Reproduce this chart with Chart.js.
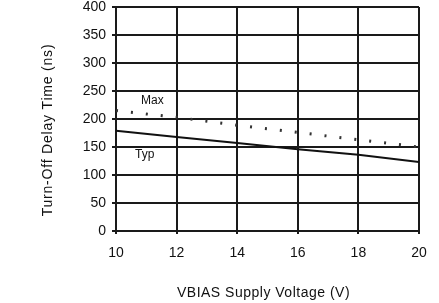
<!DOCTYPE html>
<html lang="en">
<head>
  <meta charset="UTF-8" />
  <title>Turn-Off Delay Time vs VBIAS</title>
  <script src="https://cdn.jsdelivr.net/npm/chart.js"></script>
  <style>
    html, body { margin: 0; padding: 0; background: #fff; }
    #wrap { width: 439px; height: 303px; }
  </style>
</head>
<body>
  <div id="wrap">
    <canvas id="chart" width="439" height="303"></canvas>
  </div>

  <script>
    const voltage = [10, 12, 14, 16, 18, 20];
    const typDelay = [179, 168, 157, 146, 136, 123];
    const maxDelay = [215, 203, 189, 176, 163, 150];
    const xTicks = [10, 12, 14, 16, 18, 20];
    const yTicks = [0, 50, 100, 150, 200, 250, 300, 350, 400];

    const font = 'Liberation Sans, Arial, sans-serif';

    // titles and curve labels
    const textPlugin = {
      id: 'texts',
      afterDraw(chart) {
        const c = chart.ctx;
        const xs = chart.scales.x, ys = chart.scales.y;
        c.save();
        c.fillStyle = '#111';
        c.textAlign = 'center';
        c.textBaseline = 'middle';
        c.font = '12px ' + font;
        c.fillText('Max', xs.getPixelForValue(11.2), ys.getPixelForValue(233));
        c.fillText('Typ', xs.getPixelForValue(10.95), ys.getPixelForValue(136));
        c.font = '14px ' + font;
        c.letterSpacing = '0.5px';
        c.fillText('VBIAS Supply Voltage (V)', (xs.left + xs.right) / 2 - 4, 293);
        c.letterSpacing = '0.8px';
        c.translate(48, 130);
        c.rotate(-Math.PI / 2);
        c.fillText('Turn-Off Delay Time (ns)', 0, 0);
        c.restore();
      }
    };

    new Chart(document.getElementById('chart'), {
      type: 'line',
      data: {
        datasets: [
          {
            label: 'Max',
            data: voltage.map((v, i) => ({ x: v, y: maxDelay[i] })),
            borderColor: '#333',
            borderWidth: 3,
            borderDash: [2, 13],
            pointRadius: 0,
            tension: 0
          },
          {
            label: 'Typ',
            data: voltage.map((v, i) => ({ x: v, y: typDelay[i] })),
            borderColor: '#111',
            borderWidth: 2,
            pointRadius: 0,
            tension: 0
          }
        ]
      },
      plugins: [textPlugin],
      options: {
        responsive: false,
        animation: false,
        layout: { padding: { left: 0, right: 20, top: 7, bottom: 0 } },
        plugins: { legend: { display: false }, tooltip: { enabled: false } },
        scales: {
          x: {
            type: 'linear',
            min: 10,
            max: 20,
            afterBuildTicks: s => { s.ticks = xTicks.map(v => ({ value: v })); },
            afterFit: s => { s.height = 72; s.paddingLeft = 0; s.paddingRight = 0; },
            grid: { color: '#1a1a1a', lineWidth: 2, tickLength: 3 },
            border: { display: false },
            ticks: { color: '#111', font: { family: font, size: 14 }, padding: 11, maxRotation: 0 }
          },
          y: {
            min: 0,
            max: 400,
            afterBuildTicks: s => { s.ticks = yTicks.map(v => ({ value: v })); },
            afterFit: s => { s.width = 116; s.paddingTop = 0; s.paddingBottom = 0; },
            grid: { color: '#1a1a1a', lineWidth: 2, tickLength: 4 },
            border: { display: false },
            ticks: { color: '#111', font: { family: font, size: 14 }, padding: 6 }
          }
        }
      }
    });
  </script>
</body>
</html>
